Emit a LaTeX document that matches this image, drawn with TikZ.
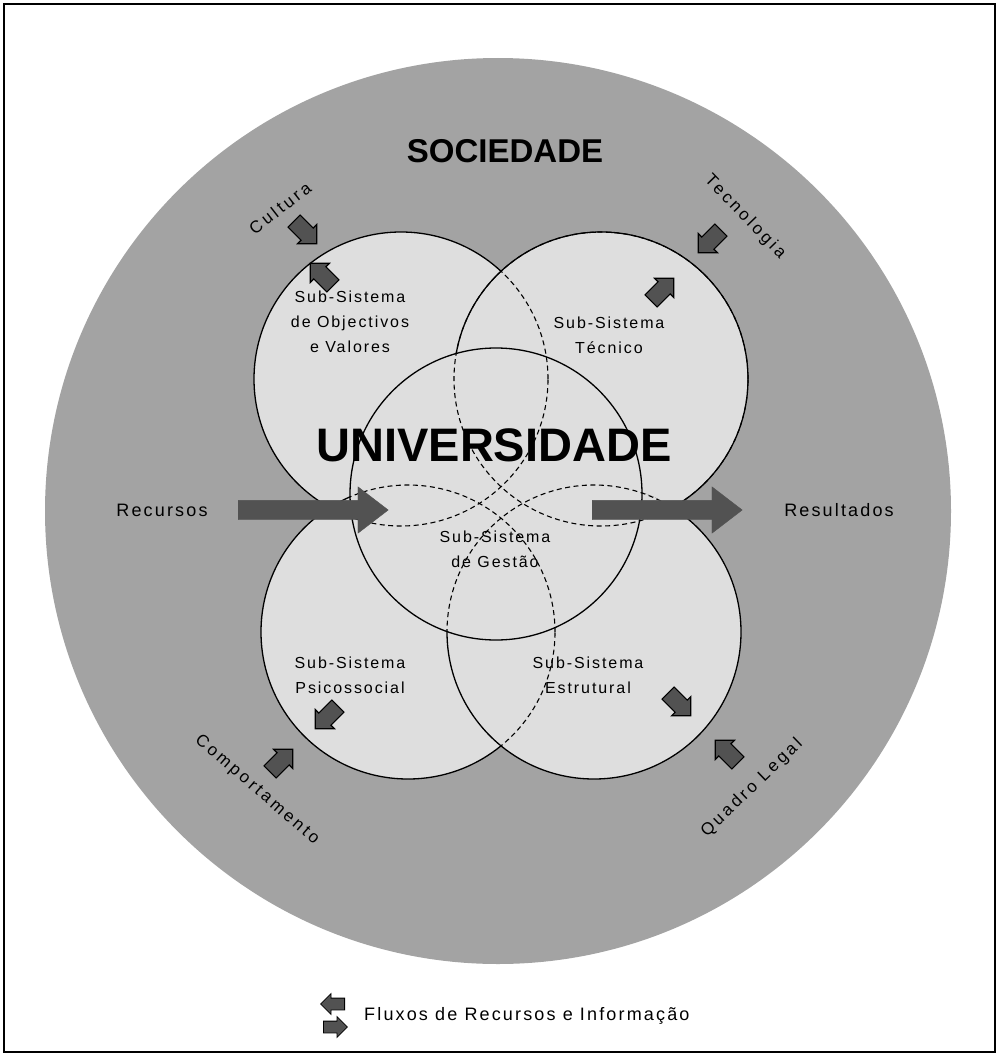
\documentclass[tikz,border=0pt]{standalone}
\usepackage{fontspec}
\setmainfont{Liberation Sans}
\newfontfamily\bitfont[LetterSpace=12]{Liberation Sans}
\newfontfamily\widefont[LetterSpace=18]{Liberation Sans}
\usepackage{xcolor}
\usetikzlibrary{shapes.arrows}
\definecolor{societygray}{HTML}{A3A3A3}
\definecolor{systemgray}{HTML}{DEDEDE}
\definecolor{flowgray}{HTML}{525252}
\newcommand{\subr}{147pt}

\begin{document}
\begin{tikzpicture}[x=1pt,y=-1pt,
  system/.style={fill=systemgray,draw=black,line width=1.3pt},
  hidden/.style={draw=black,line width=1.1pt,dash pattern=on 5pt off 3.5pt},
  sublabel/.style={align=center,font=\bitfont\fontsize{16}{25}\selectfont,inner sep=0pt},
  outlabel/.style={font=\bitfont\fontsize{18}{22}\selectfont,inner sep=0pt},
  turnlabel/.style={font=\widefont\fontsize{17}{20}\selectfont,inner sep=0pt},
  bigflow/.style={single arrow,fill=flowgray,draw=flowgray,inner sep=0pt,inner ysep=9.5pt,
    text height=0pt,text depth=0pt,single arrow head extend=13.5pt,
    single arrow tip angle=75,minimum height=150pt,anchor=tail},
  flow/.style={single arrow,fill=flowgray,draw=black,line width=1.1pt,inner sep=0pt,
    inner ysep=8pt,text height=0pt,text depth=0pt,single arrow head extend=5pt,
    single arrow tip angle=90,minimum height=32pt,anchor=tail},
  keyflow/.style={flow,line width=.8pt,inner ysep=5.5pt,single arrow head extend=4.5pt,
    minimum height=24pt}
]
\useasboundingbox (0,0) rectangle (999,1057);
\draw[line width=1.5pt] (4,4) rectangle (995,1052);

\coordinate (society) at (498,511);
\coordinate (goals) at (401,379);
\coordinate (technical) at (601,379);
\coordinate (psycho) at (408,632);
\coordinate (structure) at (594,632);
\coordinate (university) at (496,494);

\fill[societygray] (society) circle[radius=453pt];
\foreach \c in {goals,technical,psycho,structure}
  \path[system] (\c) circle[radius=\subr];

\begin{scope}
  \clip (technical) circle[radius=\subr];
  \draw[hidden] (goals) circle[radius=\subr];
\end{scope}
\begin{scope}
  \clip (psycho) circle[radius=\subr];
  \draw[hidden] (goals) circle[radius=\subr];
\end{scope}
\begin{scope}
  \clip (structure) circle[radius=\subr];
  \draw[hidden] (psycho) circle[radius=\subr];
\end{scope}
\begin{scope}
  \clip (technical) circle[radius=147.8pt];
  \fill[systemgray] (structure) circle[radius=147.8pt];
  \draw[hidden] (technical) circle[radius=\subr] (structure) circle[radius=\subr];
\end{scope}

\fill[systemgray] (university) circle[radius=146pt];
\begin{scope}
  \clip (university) circle[radius=146pt];
  \foreach \c in {goals,technical,psycho,structure}
    \draw[hidden] (\c) circle[radius=\subr];
\end{scope}
\draw[line width=1.3pt] (university) circle[radius=146pt];

\node[font=\bfseries\fontsize{33}{33}\selectfont] (soclabel) at (505,151) {SOCIEDADE};
\node[font=\bfseries\fontsize{47}{47}\selectfont] (unilabel) at (494,445) {UNIVERSIDADE};

\node[sublabel] (goalslabel) at (350,322) {Sub-Sistema\\de Objectivos\\e Valores};
\node[sublabel] (techlabel) at (609,335) {Sub-Sistema\\Técnico};
\node[sublabel] (mgmtlabel) at (495,549) {Sub-Sistema\\de Gestão};
\node[sublabel] (psycholabel) at (350,675) {Sub-Sistema\\Psicossocial};
\node[sublabel] (structlabel) at (588,675) {Sub-Sistema\\Estrutural};

\node[outlabel] (resources) at (162,510) {Recursos};
\node[outlabel] (results) at (839,510) {Resultados};
\node[turnlabel,rotate=38] (culture) at (280,208) {Cultura};
\node[turnlabel,rotate=-46] (technology) at (745,217) {Tecnologia};
\node[turnlabel,rotate=-41] (behaviour) at (257,790) {Comportamento};
\node[turnlabel,rotate=44] (legal) at (752,788) {Quadro Legal};

\node[bigflow] (inflow) at (238,510) {};
\node[bigflow] (outflow) at (592,510) {};

\node[flow,rotate=-45] (cultin) at (293.7,220.7) {};
\node[flow,rotate=135] (goalsout) at (333.3,286.3) {};
\node[flow,rotate=-135] (techin) at (721.3,229.7) {};
\node[flow,rotate=45] (techout) at (650.7,301.3) {};
\node[flow,rotate=45] (behavin) at (269.7,772.3) {};
\node[flow,rotate=-135] (psychout) at (338.3,705.7) {};
\node[flow,rotate=135] (legalin) at (738.3,763.3) {};
\node[flow,rotate=-45] (structout) at (667.7,692.7) {};

\node[keyflow,rotate=180] (keyleft) at (345,1004) {};
\node[keyflow] (keyright) at (323,1027) {};
\node[outlabel,anchor=west] (keylabel) at (364,1016) {Fluxos de Recursos e Informação};
\end{tikzpicture}
\end{document}
